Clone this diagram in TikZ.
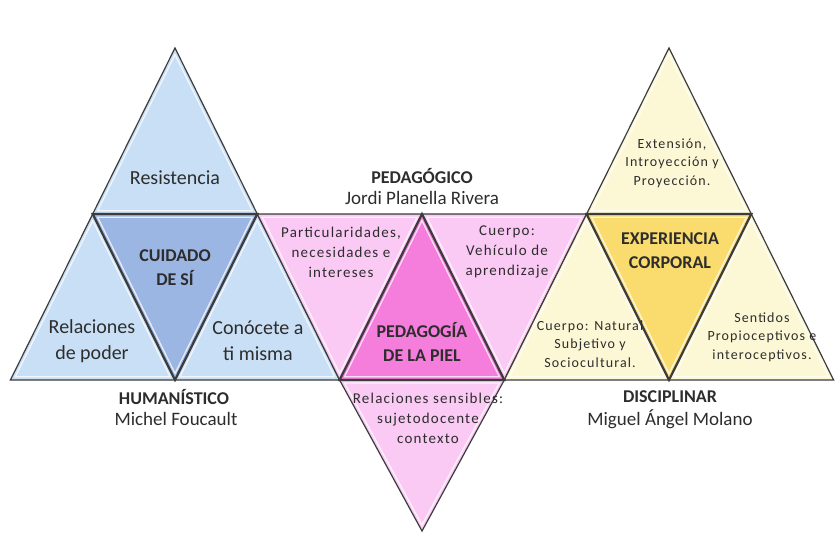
\documentclass[tikz,border=0pt]{standalone}
\usepackage{fontspec}
\setmainfont{Carlito}
\newfontfamily\spacedfont[LetterSpace=8]{Carlito}
\usetikzlibrary{calc}

\definecolor{blueL}{RGB}{200,223,245}
\definecolor{blueD}{RGB}{156,182,228}
\definecolor{pinkL}{RGB}{250,202,245}
\definecolor{pinkD}{RGB}{245,125,220}
\definecolor{yellowL}{RGB}{252,248,214}
\definecolor{yellowD}{RGB}{249,219,110}
\definecolor{edge}{RGB}{60,60,60}
\definecolor{ink}{RGB}{45,45,45}

\tikzset{
  tri/.style={draw=edge, line width=1.2pt},
  core/.style={draw=edge, line width=2.2pt},
  bevel/.style={draw=white, opacity=.75, line width=1.3pt},
  big/.style={font=\fontsize{20}{26}\selectfont, text=ink, align=center},
  head/.style={font=\fontsize{18}{24}\selectfont\bfseries, text=ink, align=center},
  author/.style={font=\fontsize{19}{22}\selectfont, text=ink, align=center},
  small/.style={font=\spacedfont\fontsize{15}{20}\selectfont, text=ink, align=center},
  tiny/.style={font=\spacedfont\fontsize{14}{18.5}\selectfont, text=ink, align=center},
}

\begin{document}
\begin{tikzpicture}[x=1pt,y=-1pt]
\useasboundingbox[fill=white] (0,0) rectangle (835,535);

% humanistico
\coordinate (h-top) at (175,48);
\coordinate (h-ml) at (92.7,214);
\coordinate (h-mr) at (257.3,214);
\coordinate (h-bl) at (10.4,380);
\coordinate (h-bm) at (175,380);
\coordinate (h-br) at (339.6,380);
% pedagogico
\coordinate (p-tl) at (257.3,214);
\coordinate (p-tm) at (422,214);
\coordinate (p-tr) at (586.6,214);
\coordinate (p-bl) at (339.6,380);
\coordinate (p-br) at (504.3,380);
\coordinate (p-bot) at (422,531);
% disciplinar
\coordinate (d-top) at (669,48);
\coordinate (d-ml) at (586.6,214);
\coordinate (d-mr) at (751.3,214);
\coordinate (d-bl) at (504.3,380);
\coordinate (d-bm) at (669,380);
\coordinate (d-br) at (833.6,380);

\foreach \a/\b/\c/\f/\s in {h-top/h-ml/h-mr/blueL/tri, h-ml/h-bl/h-bm/blueL/tri, h-mr/h-bm/h-br/blueL/tri,
    p-tl/p-tm/p-bl/pinkL/tri, p-tm/p-tr/p-br/pinkL/tri, p-bl/p-br/p-bot/pinkL/tri,
    d-top/d-ml/d-mr/yellowL/tri, d-ml/d-bl/d-bm/yellowL/tri, d-mr/d-bm/d-br/yellowL/tri,
    h-ml/h-mr/h-bm/blueD/core, p-tm/p-bl/p-br/pinkD/core, d-ml/d-mr/d-bm/yellowD/core}
{
  \filldraw[\s, fill=\f] (\a) -- (\b) -- (\c) -- cycle;
  \draw[bevel] ($.96*(\a)+.02*(\b)+.02*(\c)$) -- ($.02*(\a)+.96*(\b)+.02*(\c)$)
    -- ($.02*(\a)+.02*(\b)+.96*(\c)$) -- cycle;
}

% textos
\node[big] (resistencia) at (175,178) {Resistencia};
\node[head] (cuidado) at (175,268) {CUIDADO\\DE SÍ};
\node[big] (poder) at (92,341) {Relaciones\\de poder};
\node[big] (conocete) at (258,341) {Conócete a\\ti misma};
\node[head] (humanistico) at (174,397) {HUMANÍSTICO};
\node[author] (foucault) at (176,419) {Michel Foucault};

\node[head] (pedagogico) at (422,176) {PEDAGÓGICO};
\node[author] (planella) at (422,198) {Jordi Planella Rivera};
\node[small] (particular) at (341,252) {Particularidades,\\necesidades e\\intereses};
\node[head] (piel) at (422,342) {PEDAGOGÍA\\DE LA PIEL};
\node[small] (vehiculo) at (507,252) {Cuerpo:\\Vehículo de\\aprendizaje};
\node[small] (sensibles) at (428,418) {Relaciones sensibles:\\sujetodocente\\contexto};

\node[tiny] (extension) at (672,163) {Extensión,\\Introyección y\\Proyección.};
\node[head] (experiencia) at (670,251) {EXPERIENCIA\\CORPORAL};
\node[tiny] (natural) at (590,344) {Cuerpo: Natural\\Subjetivo y\\Sociocultural.};
\node[tiny] (sentidos) at (762,337) {Sentidos\\Propioceptivos e\\interoceptivos.};
\node[head] (disciplinar) at (670,397) {DISCIPLINAR};
\node[author] (molano) at (670,419) {Miguel Ángel Molano};
\end{tikzpicture}
\end{document}
